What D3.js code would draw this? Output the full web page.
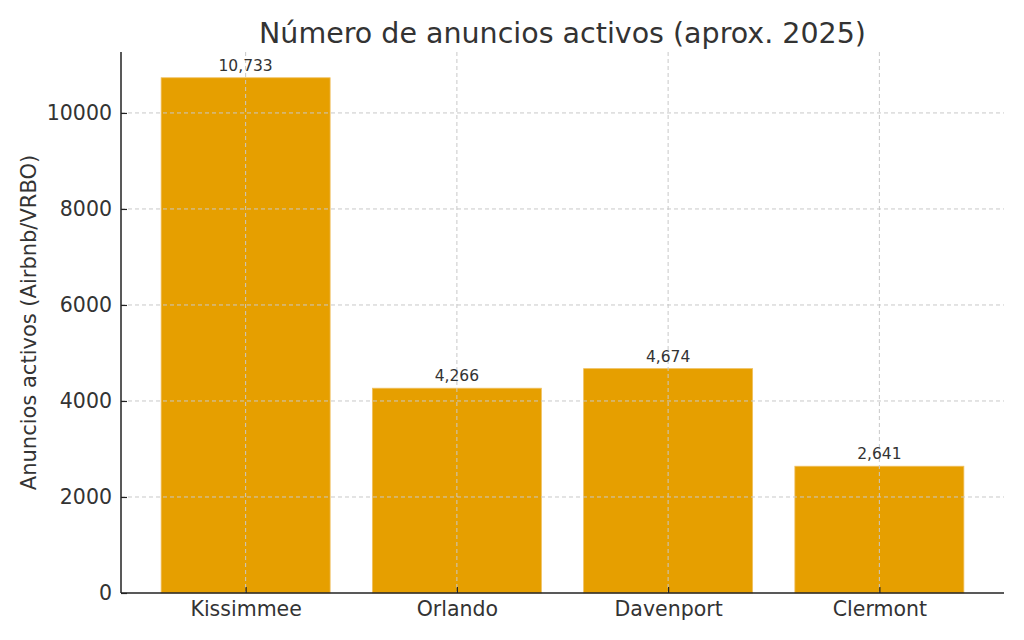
<!DOCTYPE html>
<html>
<head>
<meta charset="utf-8">
<script src="https://cdn.jsdelivr.net/npm/d3@7"></script>
<style>
  body { margin: 0; background: #fff; }
  text { font-family: "DejaVu Sans", sans-serif; fill: #333; }
</style>
</head>
<body>
<div id="container"></div>
<script>
let w = 1024;
let h = 640;

// data
let cities = ["Kissimmee", "Orlando", "Davenport", "Clermont"];
let listings = [10733, 4266, 4674, 2641];
let yTicks = [0, 2000, 4000, 6000, 8000, 10000];

// plot area edges
let padL = 121, padR = 1004, padT = 52, padB = 593;

let viz = d3.select("#container")
  .append("svg")
    .attr("width", w)
    .attr("height", h)
    .style("background-color", "white");

let xScale = d3.scaleLinear().domain([-0.59, cities.length - 1 + 0.59]).range([padL, padR]);
let yScale = d3.scaleLinear().domain([0, d3.max(listings) * 1.05]).range([padB, padT]);
let barW = xScale(0.8) - xScale(0);

let data = cities.map(function(c, i){ return {name: c, value: listings[i], i: i}; });

// bars
viz.selectAll(".bar").data(data).enter()
  .append("rect")
    .attr("class", "bar")
    .attr("x", function(d){ return xScale(d.i) - barW / 2; })
    .attr("y", function(d){ return yScale(d.value); })
    .attr("width", barW)
    .attr("height", function(d){ return padB - yScale(d.value); })
    .attr("fill", "#E69F00")
    .attr("stroke", "#f0c060")
    .attr("stroke-width", 0.8);

// grid (drawn over the bars like the original)
let grid = viz.append("g").attr("class", "grid");
grid.selectAll(".hgrid").data(yTicks.slice(1)).enter()
  .append("line")
    .attr("x1", padL).attr("x2", padR)
    .attr("y1", function(d){ return yScale(d); })
    .attr("y2", function(d){ return yScale(d); })
    .attr("stroke", "#c8c8c8")
    .attr("stroke-width", 1)
    .attr("stroke-dasharray", "4,3");
grid.selectAll(".vgrid").data(data).enter()
  .append("line")
    .attr("x1", function(d){ return xScale(d.i); })
    .attr("x2", function(d){ return xScale(d.i); })
    .attr("y1", padT).attr("y2", padB)
    .attr("stroke", "#c8c8c8")
    .attr("stroke-width", 1)
    .attr("stroke-dasharray", "4,3");

// value labels
let fmt = d3.format(",");
viz.selectAll(".val").data(data).enter()
  .append("text")
    .attr("class", "val")
    .attr("x", function(d){ return xScale(d.i); })
    .attr("y", function(d){ return yScale(d.value) - 7; })
    .attr("text-anchor", "middle")
    .style("font-size", "15.5px")
    .text(function(d){ return fmt(d.value); });

// axes
let yAxis = d3.axisLeft(yScale).tickValues(yTicks).tickSize(-6).tickPadding(9).tickFormat(d3.format("d"));
let yg = viz.append("g").attr("transform", "translate(" + padL + ",0)").call(yAxis);
yg.select(".domain").attr("d", "M0," + padT + "V" + padB).attr("stroke", "#222").attr("stroke-width", 1.5);
yg.selectAll(".tick line").attr("stroke", "#222").attr("stroke-width", 1.2);
yg.selectAll(".tick text").style("font-size", "20.5px").style("font-family", "DejaVu Sans").attr("fill", "#222");

let xAxis = d3.axisBottom(xScale).tickValues(d3.range(cities.length)).tickSize(-6).tickPadding(8)
  .tickFormat(function(i){ return cities[i]; });
let xg = viz.append("g").attr("transform", "translate(0," + padB + ")").call(xAxis);
xg.select(".domain").attr("d", "M" + padL + ",0H" + padR).attr("stroke", "#222").attr("stroke-width", 1.5);
xg.selectAll(".tick line").attr("stroke", "#222").attr("stroke-width", 1.2);
xg.selectAll(".tick text").style("font-size", "20.5px").style("font-family", "DejaVu Sans").attr("fill", "#222");

// title and axis label
viz.append("text")
  .attr("x", (padL + padR) / 2)
  .attr("y", 43)
  .attr("text-anchor", "middle")
  .style("font-size", "28.5px")
  .text("Número de anuncios activos (aprox. 2025)");

viz.append("text")
  .attr("transform", "translate(36," + ((padT + padB) / 2) + ") rotate(-90)")
  .attr("text-anchor", "middle")
  .style("font-size", "21px")
  .attr("fill", "#222")
  .text("Anuncios activos (Airbnb/VRBO)");
</script>
</body>
</html>
